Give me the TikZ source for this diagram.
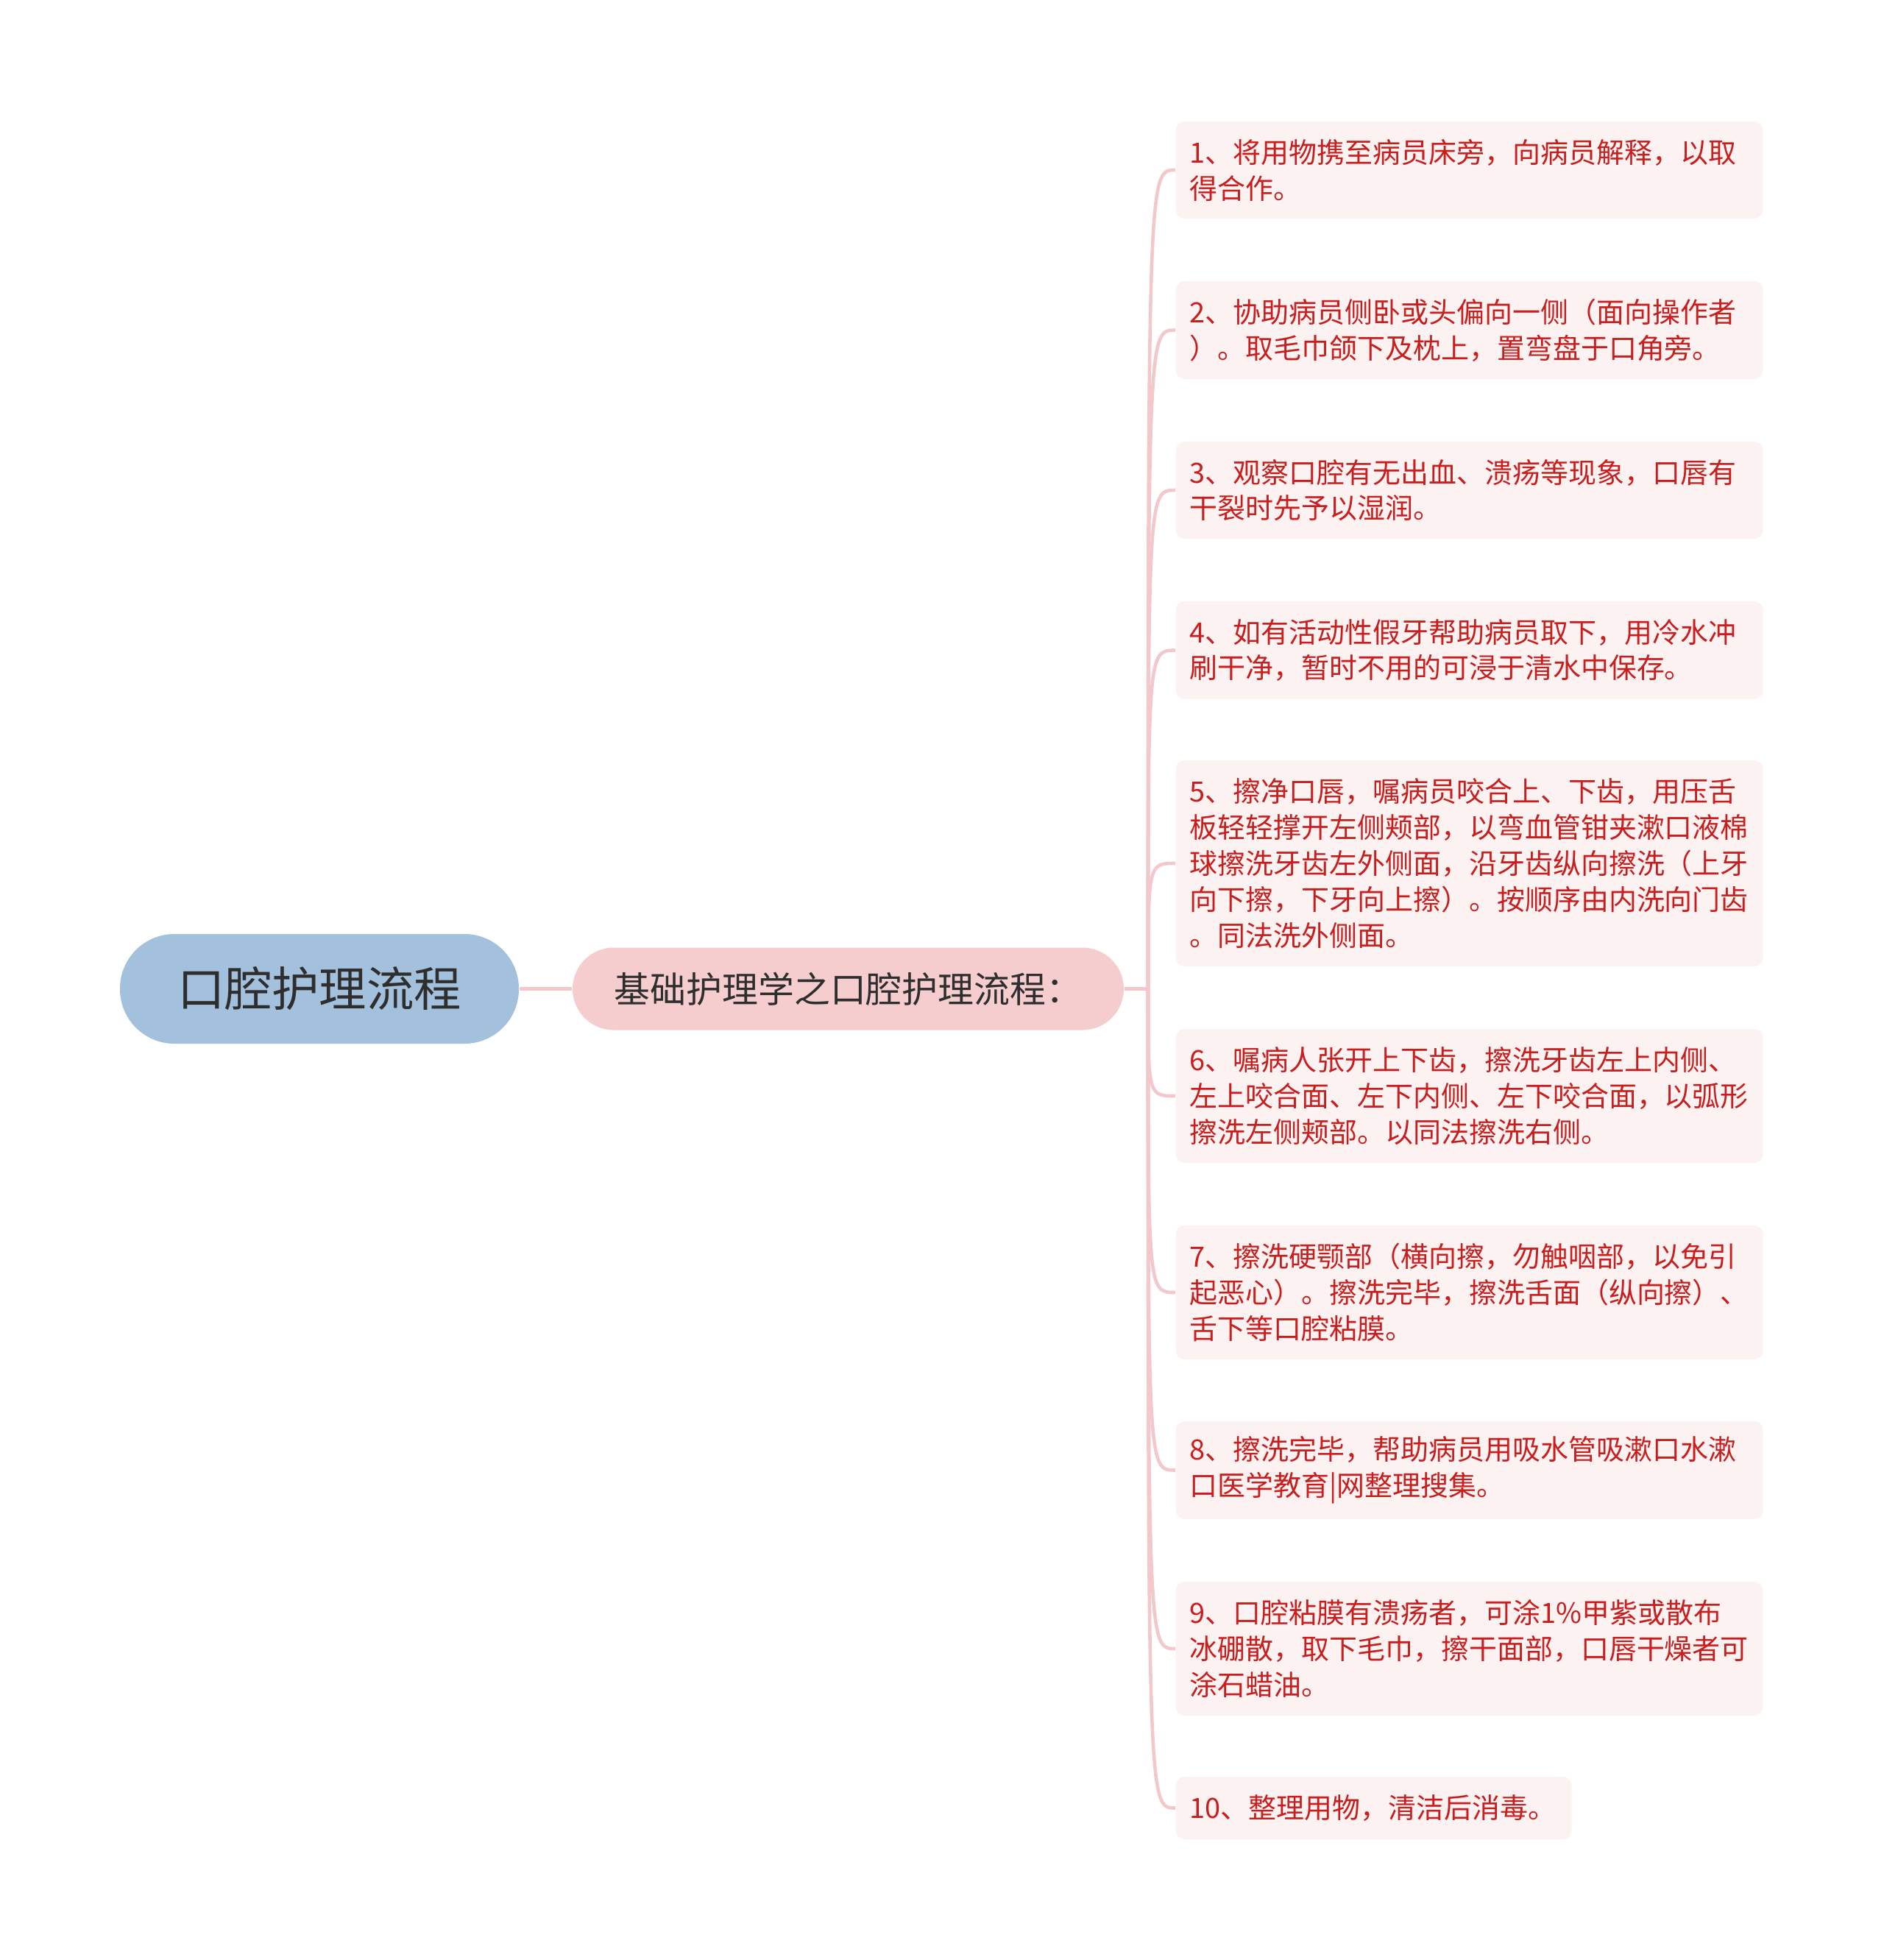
\documentclass[tikz,border=0pt]{standalone}
\usepackage{fontspec}
\setmainfont{Noto Sans CJK SC}
\definecolor{rootblue}{HTML}{A3C0DC}
\definecolor{midpink}{HTML}{F6CDCE}
\definecolor{leafpink}{HTML}{FDF2F2}
\definecolor{linkpink}{HTML}{F3C8CA}
\definecolor{leafred}{HTML}{C81E1E}
\definecolor{darktext}{HTML}{2E2E2E}
\begin{document}
\begin{tikzpicture}[
  rootbox/.style={fill=rootblue,text=darktext,rounded corners=0.74cm,minimum width=5.42cm,minimum height=1.49cm,font=\fontsize{18.3}{22}\selectfont},
  midbox/.style={fill=midpink,text=darktext,rounded corners=0.56cm,minimum width=7.49cm,minimum height=1.12cm,font=\fontsize{13.9}{17}\selectfont},
  leaf/.style={fill=leafpink,text=leafred,rounded corners=0.12cm,anchor=west,align=left,text width=7.6cm,inner xsep=0.19cm,inner ysep=0pt,font=\fontsize{10.8}{13.9}\selectfont},
  link/.style={draw=linkpink,line width=1.3pt}]
\useasboundingbox (0,0) rectangle (25.6,-26.63);

% root and main topic
\node[rootbox] (root) at (4.34,-13.435) {口腔护理流程};
\node[midbox] (mid) at (11.525,-13.435) {基础护理学之口腔护理流程：};
\coordinate (hub) at (15.60,-13.435);

% steps
\node[leaf,minimum height=1.32cm] (l1) at (15.97,-2.31) {1、将用物携至病员床旁，向病员解释，以取\\得合作。};
\node[leaf,minimum height=1.33cm] (l2) at (15.97,-4.485) {2、协助病员侧卧或头偏向一侧（面向操作者\\）。取毛巾颌下及枕上，置弯盘于口角旁。};
\node[leaf,minimum height=1.32cm] (l3) at (15.97,-6.66) {3、观察口腔有无出血、溃疡等现象，口唇有\\干裂时先予以湿润。};
\node[leaf,minimum height=1.33cm] (l4) at (15.97,-8.835) {4、如有活动性假牙帮助病员取下，用冷水冲\\刷干净，暂时不用的可浸于清水中保存。};
\node[leaf,minimum height=2.80cm] (l5) at (15.97,-11.73) {5、擦净口唇，嘱病员咬合上、下齿，用压舌\\板轻轻撑开左侧颊部，以弯血管钳夹漱口液棉\\球擦洗牙齿左外侧面，沿牙齿纵向擦洗（上牙\\向下擦，下牙向上擦）。按顺序由内洗向门齿\\。同法洗外侧面。};
\node[leaf,minimum height=1.82cm] (l6) at (15.97,-14.89) {6、嘱病人张开上下齿，擦洗牙齿左上内侧、\\左上咬合面、左下内侧、左下咬合面，以弧形\\擦洗左侧颊部。以同法擦洗右侧。};
\node[leaf,minimum height=1.82cm] (l7) at (15.97,-17.56) {7、擦洗硬颚部（横向擦，勿触咽部，以免引\\起恶心）。擦洗完毕，擦洗舌面（纵向擦）、\\舌下等口腔粘膜。};
\node[leaf,minimum height=1.33cm] (l8) at (15.97,-19.975) {8、擦洗完毕，帮助病员用吸水管吸漱口水漱\\口医学教育|网整理搜集。};
\node[leaf,minimum height=1.82cm] (l9) at (15.97,-22.40) {9、口腔粘膜有溃疡者，可涂1\%甲紫或散布\\冰硼散，取下毛巾，擦干面部，口唇干燥者可\\涂石蜡油。};
\node[leaf,minimum height=0.85cm,text width=5.0cm] (l10) at (15.97,-24.565) {10、整理用物，清洁后消毒。};

% connectors
\draw[link] (root) -- (mid);
\draw[link] (mid) -- (hub);
\draw[link] (hub) .. controls (hub |- l1.west) .. (l1.west);
\draw[link] (hub) .. controls (hub |- l2.west) .. (l2.west);
\draw[link] (hub) .. controls (hub |- l3.west) .. (l3.west);
\draw[link] (hub) .. controls (hub |- l4.west) .. (l4.west);
\draw[link] (hub) .. controls (hub |- l5.west) .. (l5.west);
\draw[link] (hub) .. controls (hub |- l6.west) .. (l6.west);
\draw[link] (hub) .. controls (hub |- l7.west) .. (l7.west);
\draw[link] (hub) .. controls (hub |- l8.west) .. (l8.west);
\draw[link] (hub) .. controls (hub |- l9.west) .. (l9.west);
\draw[link] (hub) .. controls (hub |- l10.west) .. (l10.west);
\end{tikzpicture}
\end{document}
